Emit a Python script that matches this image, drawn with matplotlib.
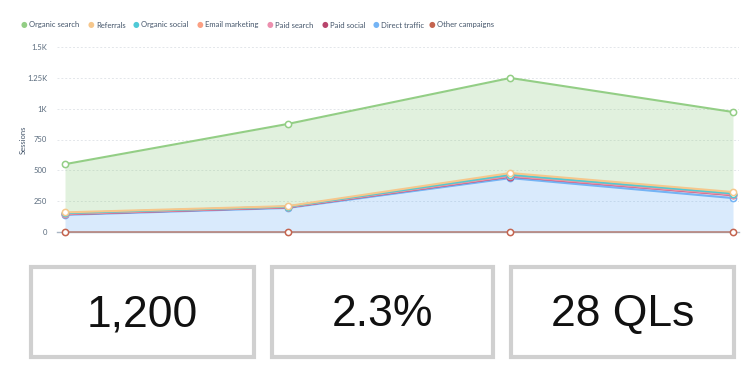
import matplotlib
matplotlib.use("Agg")
import matplotlib.pyplot as plt
import numpy as np
from matplotlib.patches import Rectangle

# ---- data ----
periods = ["P1", "P2", "P3", "P4"]
series_names = ["Organic search", "Referrals", "Organic social", "Email marketing",
                "Paid search", "Paid social", "Direct traffic", "Other campaigns"]
organic_search = [391, 666, 771, 649]
referrals = [6, 4, 14, 12]
organic_social = [2, 1, 3, 2]
email_marketing = [5, 3, 8, 8]
paid_search = [2, 2, 3, 3]
paid_social = [5, 5, 13, 24]
direct_traffic = [139, 195, 437, 275]
other_campaigns = [0, 0, 0, 0]
y_ticks = [0, 250, 500, 750, 1000, 1250, 1500]
y_tick_labels = ["0", "250", "500", "750", "1K", "1.25K", "1.5K"]
kpi_values = ["1,200", "2.3%", "28 QLs"]

colors = {
    "Organic search": "#93ce85",
    "Referrals": "#f6c78c",
    "Organic social": "#4fc9d6",
    "Email marketing": "#fba083",
    "Paid search": "#ec8fae",
    "Paid social": "#b8456c",
    "Direct traffic": "#74b4f5",
    "Other campaigns": "#c4644f",
}

values = {
    "Organic search": organic_search,
    "Referrals": referrals,
    "Organic social": organic_social,
    "Email marketing": email_marketing,
    "Paid search": paid_search,
    "Paid social": paid_social,
    "Direct traffic": direct_traffic,
    "Other campaigns": other_campaigns,
}

plt.rcParams['font.family'] = ['Lato', 'DejaVu Sans']

fig = plt.figure(figsize=(7.51, 3.85), dpi=100)
ax = fig.add_axes([57/751, (385-232)/385, (739-57)/751, (232-47)/385])

x = np.arange(len(periods))
stack_order = list(reversed(series_names))  # bottom to top
base = np.zeros(len(periods))
tops = {}
for name in stack_order:
    v = np.array(values[name], dtype=float)
    top = base + v
    ax.fill_between(x, base, top, color=colors[name], alpha=0.27, linewidth=0, zorder=1)
    tops[name] = top.copy()
    base = top

for name in stack_order:
    lw = 1.2 if name == "Other campaigns" else 1.5
    col = "#b8867e" if name == "Other campaigns" else colors[name]
    ax.plot(x, tops[name], color=col, lw=lw, zorder=3, clip_on=False)
    ax.plot(x, tops[name], lw=0, zorder=4,
            marker='o', markersize=4.5, markerfacecolor='white',
            markeredgecolor=colors[name], markeredgewidth=1.1, clip_on=False)

ax.set_xlim(-8/222.67, 3 + 6/222.67)
ax.set_ylim(0, 1500)
ax.set_yticks(y_ticks)
ax.set_yticklabels(y_tick_labels)
ax.set_xticks([])
for y in y_ticks[1:]:
    ax.axhline(y, color='#e3e6ea', lw=0.7, ls=(0, (2, 2)), zorder=0)
for s in ['top', 'right', 'left']:
    ax.spines[s].set_visible(False)
ax.spines['bottom'].set_color('#a9b6c4')
ax.spines['bottom'].set_linewidth(1.0)
ax.tick_params(axis='y', length=0, labelsize=5.5, labelcolor='#5a6b7d', pad=7)
fig.text(23/751, 1 - 140/385, "Sessions", rotation=90, fontsize=5.5, color='#44556a',
         ha='center', va='center')

# legend
legend_x = [24, 91, 136, 200, 270, 325, 376, 432]
for name, lx in zip(series_names, legend_x):
    fig.text(lx/751, 1 - 25/385, "\u25CF", color=colors[name], fontsize=5.5,
             ha='center', va='center', family='DejaVu Sans')
    fig.text((lx + 5)/751, 1 - 25/385, name, color='#44556a', fontsize=5.5,
             ha='left', va='center')

# KPI boxes
boxes = [(31, 254), (272, 493), (511, 734)]
for (bx0, bx1), label in zip(boxes, kpi_values):
    rect = Rectangle((bx0/751, 1 - 357/385), (bx1 - bx0)/751, (357 - 267)/385,
                     transform=fig.transFigure, fill=False, edgecolor='#d0d0d0', lw=3)
    fig.patches.append(rect)
    fig.text((bx0 + bx1)/2/751, 1 - 315/385, label, fontsize=32, color='#111111',
             ha='center', va='center', family=['Liberation Sans', 'DejaVu Sans'])

fig.savefig("out.png", dpi=100)
